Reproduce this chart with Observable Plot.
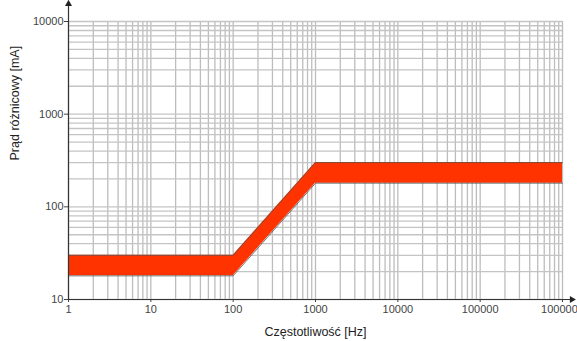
<!DOCTYPE html>
<html>
<head>
<meta charset="utf-8">
<script src="https://cdn.jsdelivr.net/npm/d3@7"></script>
<script src="https://cdn.jsdelivr.net/npm/@observablehq/plot@0.6"></script>
<style>
  html, body { margin: 0; padding: 0; background: #fff; overflow: hidden; }
</style>
</head>
<body>
<div id="chart"></div>
<script>
// Data
const freq = [1, 100, 1000, 1000000];          // Hz
const lower = [18, 18, 180, 180];              // mA
const upper = [30, 30, 300, 300];              // mA
const xTicks = [1, 10, 100, 1000, 10000, 100000, 1000000];
const yTicks = [10, 100, 1000, 10000];
const xLabel = "Częstotliwość [Hz]";
const yLabel = "Prąd różnicowy [mA]";

const band = freq.map((f, i) => ({f, lo: lower[i], hi: upper[i]}));

const xGrid = [];
for (let k = 0; k < 6; k++) for (let m = 1; m <= 9; m++) xGrid.push(m * 10 ** k);
xGrid.push(1000000);
const yGrid = [];
for (let k = 1; k < 4; k++) for (let m = 1; m <= 9; m++) yGrid.push(m * 10 ** k);
yGrid.push(10000);

const fmt = d => String(d);

const chart = Plot.plot({
  width: 577,
  height: 341,
  marginLeft: 68,
  marginRight: 15,
  marginTop: 21,
  marginBottom: 42,
  style: {fontFamily: "'Liberation Sans', Arial, sans-serif", fontSize: "11px", background: "#fff", overflow: "hidden"},
  x: {type: "log", domain: [1, 1000000]},
  y: {type: "log", domain: [10, 10000]},
  marks: [
    Plot.ruleX(xGrid, {stroke: "#bdbdbd", strokeWidth: 1.3}),
    Plot.ruleY(yGrid, {stroke: "#c4c4c4", strokeWidth: 1.3}),
    Plot.areaY(band, {x: "f", y1: "lo", y2: "hi", fill: "#ff3300"}),
    Plot.line(band, {x: "f", y: "hi", stroke: "#555", strokeWidth: 0.8}),
    Plot.line(band, {x: "f", y: "lo", stroke: "#555", strokeWidth: 0.8}),
    Plot.axisY({ticks: yTicks, tickFormat: fmt, tickSize: 4, tickPadding: 1, color: "#444", fontSize: 11, label: null}),
    Plot.axisX({ticks: xTicks, tickFormat: fmt, tickSize: 3, tickPadding: 3, color: "#444", fontSize: 11, label: null}),
    Plot.text([xLabel], {frameAnchor: "bottom", dy: 36, fill: "#222", fontSize: 12.5, fontFamily: "'Liberation Sans', Arial, sans-serif"}),
    Plot.text([yLabel], {frameAnchor: "left", dx: -54, rotate: -90, fill: "#222", fontSize: 12.5, fontFamily: "'Liberation Sans', Arial, sans-serif"}),
    Plot.link([{x1: 1, y1: 10, x2: 1.28e6, y2: 10}], {x1: "x1", y1: "y1", x2: "x2", y2: "y2", stroke: "#333", strokeWidth: 1.2}),
    Plot.link([{x1: 1, y1: 10, x2: 1, y2: 15000}], {x1: "x1", y1: "y1", x2: "x2", y2: "y2", stroke: "#333", strokeWidth: 1.2}),
    Plot.dot([{x: 1.3e6, y: 10}], {x: "x", y: "y", symbol: "triangle", rotate: 90, r: 2.6, fill: "#222", stroke: "none"}),
    Plot.dot([{x: 1, y: 15500}], {x: "x", y: "y", symbol: "triangle", r: 2.6, fill: "#222", stroke: "none"})
  ]
});
document.getElementById("chart").appendChild(chart);
</script>
</body>
</html>
